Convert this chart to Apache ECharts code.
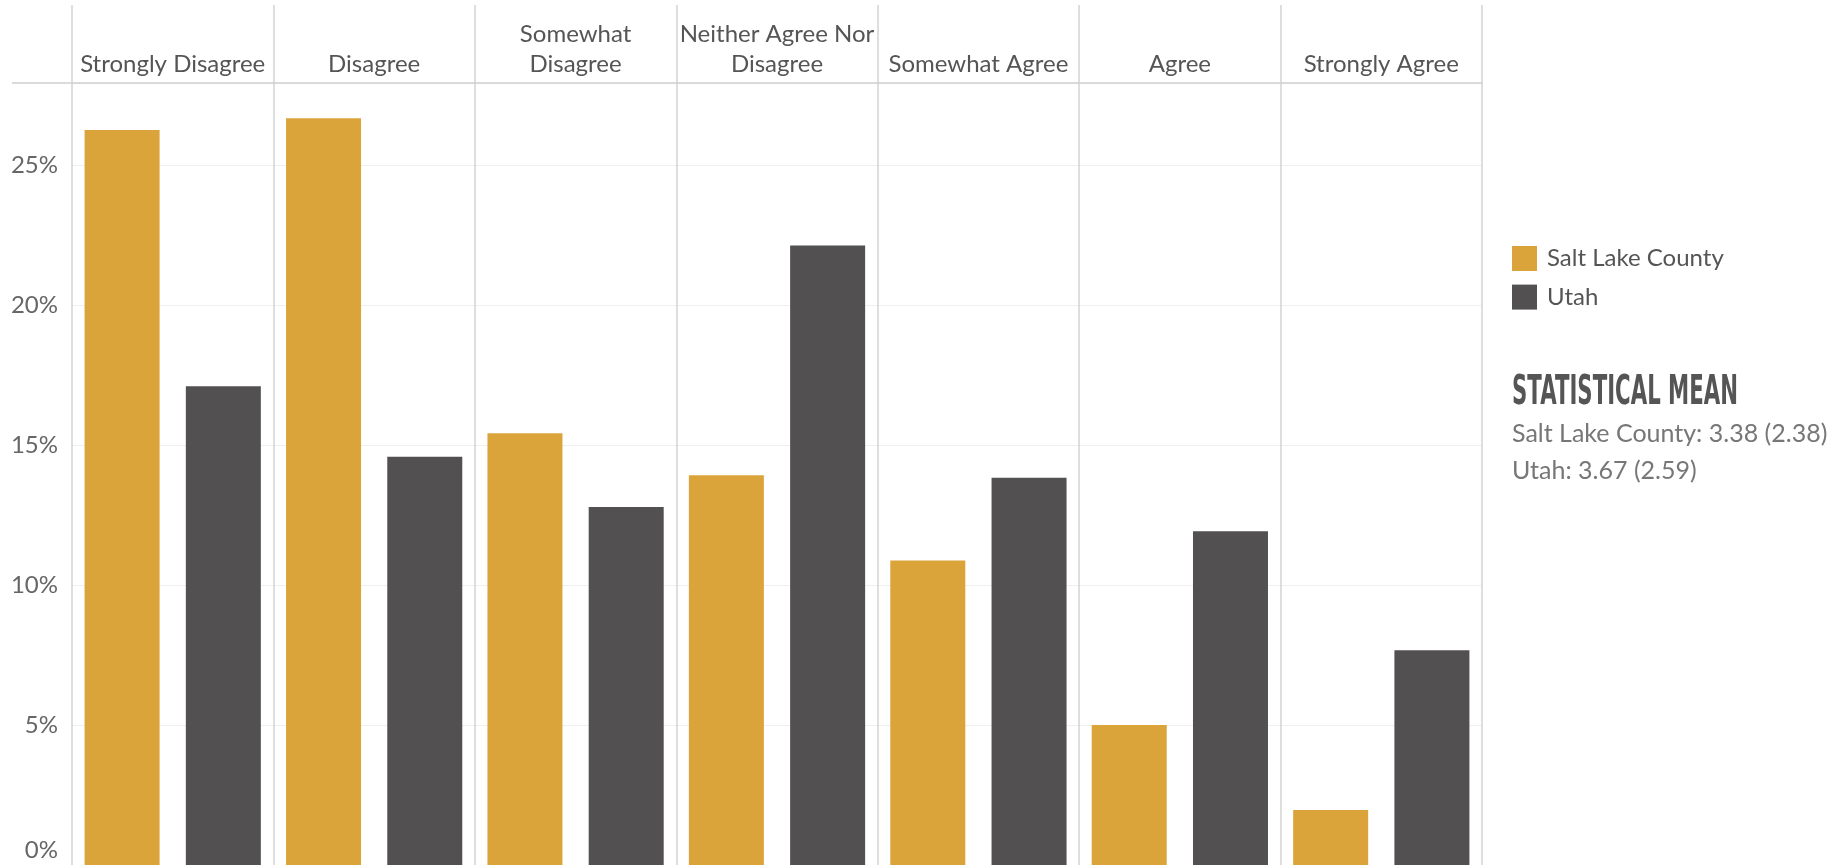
<!DOCTYPE html>
<html>
<head>
<meta charset="utf-8">
<script src="https://cdn.jsdelivr.net/npm/echarts@6/dist/echarts.min.js"></script>
<style>
html,body{margin:0;padding:0;background:#fff;}
#chart{width:1834px;height:865px;}
</style>
</head>
<body>
<div id="chart"></div>
<script>
const categories = ['Strongly Disagree', 'Disagree', 'Somewhat\nDisagree', 'Neither Agree Nor\nDisagree', 'Somewhat Agree', 'Agree', 'Strongly Agree'];
const saltLake = [26.25, 26.67, 15.42, 13.92, 10.88, 5.0, 1.96];
const utah = [17.1, 14.58, 12.79, 22.13, 13.83, 11.92, 7.67];
const seriesNames = ['Salt Lake County', 'Utah'];
const meanTitle = 'STATISTICAL MEAN';
const meanNames = ['Salt Lake County', 'Utah'];
const meanValues = [3.38, 3.67];
const meanSd = [2.38, 2.59];
const yTicks = [0, 5, 10, 15, 20, 25];

const FONT = 'Lato, "Open Sans", sans-serif';
const HEAD_FONT = 'bold 41px "DejaVu Sans", sans-serif';
const chart = echarts.init(document.getElementById('chart'), null, {renderer: 'canvas'});

const meanText = meanNames.map((n, i) => n + ': ' + meanValues[i].toFixed(2) + ' (' + meanSd[i].toFixed(2) + ')').join('\n');

// measure heading to condense it to the reference width
const cv = document.createElement('canvas').getContext('2d');
cv.font = HEAD_FONT;
const headW = cv.measureText(meanTitle).width;
const headScale = 226 / headW;

chart.setOption({
  animation: false,
  backgroundColor: '#ffffff',
  grid: [
    {left: 72, width: 1410, top: 5, height: 78},
    {left: 72, width: 1410, top: 83, bottom: 0}
  ],
  xAxis: [
    {
      gridIndex: 0, type: 'category', data: categories, position: 'bottom',
      axisLine: {show: true, lineStyle: {color: '#cfcfcf', width: 1.5}},
      axisTick: {show: false},
      axisLabel: {inside: true, margin: 4, fontFamily: FONT, fontSize: 24, color: '#555555', lineHeight: 30, interval: 0},
      splitLine: {show: true, lineStyle: {color: '#d3d3d3', width: 1.5}}
    },
    {
      gridIndex: 1, type: 'category', data: categories,
      axisLine: {show: false}, axisTick: {show: false}, axisLabel: {show: false},
      splitLine: {show: true, lineStyle: {color: '#d3d3d3', width: 1.5}}
    }
  ],
  yAxis: [
    {gridIndex: 0, type: 'value', show: false},
    {
      gridIndex: 1, type: 'value', min: 0, max: 27.93, interval: 5,
      axisLine: {show: false}, axisTick: {show: false},
      axisLabel: {
        margin: 14, fontFamily: FONT, fontSize: 24, color: '#666666',
        formatter: function (v) {
          if (yTicks.indexOf(Math.round(v * 100) / 100) < 0) return '';
          if (v === 0) return '{z|0%}';
          return v + '%';
        },
        rich: {z: {fontFamily: FONT, fontSize: 24, color: '#666666', padding: [0, 0, 30, 0]}}
      },
      splitLine: {show: true, lineStyle: {color: '#efefef', width: 1}}
    }
  ],
  legend: {
    orient: 'vertical', left: 1507, top: 241,
    itemWidth: 25, itemHeight: 25, itemGap: 13.6,
    icon: 'rect',
    textStyle: {fontFamily: FONT, fontSize: 24, color: '#555555', padding: [0, 0, 0, 5]},
    data: seriesNames
  },
  title: {
    left: 1507, top: 410,
    text: meanText,
    textStyle: {fontFamily: FONT, fontWeight: 'normal', fontSize: 25, color: '#777777', lineHeight: 37}
  },
  graphic: [
    {type: 'line', shape: {x1: 12, y1: 83, x2: 72, y2: 83}, style: {stroke: '#cfcfcf', lineWidth: 1.5}},
    {
      type: 'text', x: 1512, y: 393, scaleX: headScale,
      style: {text: meanTitle, font: HEAD_FONT, fill: '#555555', textAlign: 'left', textVerticalAlign: 'middle'}
    }
  ],
  series: [
    {name: seriesNames[0], type: 'bar', xAxisIndex: 1, yAxisIndex: 1, data: saltLake, barWidth: 75, barGap: '35%', itemStyle: {color: '#DBA43A'}},
    {name: seriesNames[1], type: 'bar', xAxisIndex: 1, yAxisIndex: 1, data: utah, barWidth: 75, barGap: '35%', itemStyle: {color: '#525051'}}
  ]
});
</script>
</body>
</html>
